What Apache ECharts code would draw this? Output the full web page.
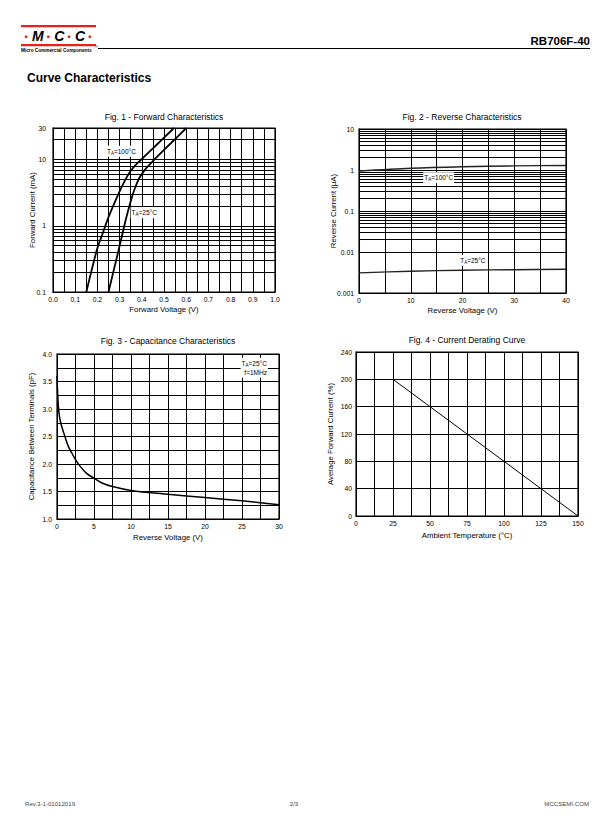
<!DOCTYPE html>
<html>
<head>
<meta charset="utf-8">
<title>RB706F-40 Curve Characteristics</title>
<script src="https://cdn.jsdelivr.net/npm/echarts@6/dist/echarts.min.js"></script>
<style>
html, body { margin: 0; padding: 0; background: #fff; }
#main { width: 612px; height: 825px; }
</style>
</head>
<body>
<div id="main"></div>
<script>
// Fig. 1 - forward characteristics (V, mA)
var fwdV100 = [0.15, 0.175, 0.2, 0.225, 0.25, 0.275, 0.3, 0.325, 0.35, 0.375, 0.4, 0.45, 0.5, 0.545];
var fwdI100 = [0.1, 0.22, 0.46, 0.79, 1.35, 2.14, 3.31, 4.9, 6.76, 8.5, 10.2, 14.8, 21.4, 30];
var fwdV25 = [0.25, 0.27, 0.29, 0.31, 0.33, 0.345, 0.36, 0.37, 0.38, 0.39, 0.4, 0.42, 0.45, 0.5, 0.55, 0.6];
var fwdI25 = [0.1, 0.19, 0.36, 0.69, 1.32, 2.04, 3.02, 3.76, 4.57, 5.37, 6.03, 7.41, 9.5, 14, 20.4, 30];
var fwdMinorY = [0.2, 0.3, 0.4, 0.5, 0.6, 0.7, 0.8, 0.9, 2, 3, 4, 5, 6, 7, 8, 9, 20];

// Fig. 2 - reverse characteristics (V, uA)
var revV = [0, 10, 20, 30, 40];
var revI100 = [0.94, 1.1, 1.2, 1.26, 1.29];
var revI25 = [0.0031, 0.0034, 0.0036, 0.0037, 0.0038];
var revMinorY = [0.002, 0.003, 0.004, 0.005, 0.006, 0.007, 0.008, 0.009,
  0.02, 0.03, 0.04, 0.05, 0.06, 0.07, 0.08, 0.09,
  0.2, 0.3, 0.4, 0.5, 0.6, 0.7, 0.8, 0.9,
  2, 3, 4, 5, 6, 7, 8, 9];

// Fig. 3 - capacitance (V, pF)
var capV = [0, 0.1, 0.25, 0.5, 1, 1.5, 2, 2.5, 3, 4, 5, 6, 7.5, 10, 15, 20, 25, 30];
var capC = [3.6, 3.25, 2.95, 2.75, 2.53, 2.33, 2.2, 2.08, 1.98, 1.83, 1.74, 1.66, 1.59, 1.52, 1.45, 1.39, 1.33, 1.26];

// Fig. 4 - current derating (degC, %)
var derT = [25, 150];
var derP = [200, 0];

function pairs(xs, ys) {
  return xs.map(function (x, i) { return [x, ys[i]]; });
}

var FONT = 'Liberation Sans, Arial, sans-serif';
var black = '#000';
var NAME_SIZE = 7.8;
var TICK_SIZE = 6.8;

function xAx(grid, min, max, interval, name, gap, fmt) {
  return {
    type: 'value', gridIndex: grid, min: min, max: max, interval: interval,
    name: name, nameLocation: 'middle', nameGap: gap, nameMoveOverlap: false,
    nameTextStyle: { fontFamily: FONT, fontSize: NAME_SIZE, color: '#000' },
    axisLine: { lineStyle: { color: black, width: 1 } },
    axisTick: { show: false },
    axisLabel: { fontFamily: FONT, fontSize: TICK_SIZE, color: '#000', margin: 4, formatter: fmt },
    splitLine: { show: true, lineStyle: { color: black, width: 1 } },
    minorTick: { show: false, splitNumber: 2 },
    minorSplitLine: { show: true, lineStyle: { color: black, width: 1 } }
  };
}

function yAx(grid, type, min, max, interval, name, gap, margin, fmt, minor) {
  var a = {
    type: type, gridIndex: grid, min: min, max: max,
    name: name, nameLocation: 'middle', nameGap: gap, nameMoveOverlap: false,
    nameTextStyle: { fontFamily: FONT, fontSize: NAME_SIZE, color: '#000' },
    axisLine: { lineStyle: { color: black, width: 1 } },
    axisTick: { show: false },
    axisLabel: { fontFamily: FONT, fontSize: TICK_SIZE, color: '#000', margin: margin },
    splitLine: { show: true, lineStyle: { color: black, width: 1 } }
  };
  if (type === 'log') { a.logBase = 10; }
  if (interval) { a.interval = interval; }
  if (fmt) { a.axisLabel.formatter = fmt; }
  if (minor) {
    a.minorTick = { show: false, splitNumber: minor };
    a.minorSplitLine = { show: true, lineStyle: { color: black, width: 1 } };
  }
  return a;
}

function gridLines(vals) {
  return {
    silent: true, symbol: ['none', 'none'], animation: false,
    label: { show: false },
    lineStyle: { color: black, type: 'solid', width: 1 },
    data: vals.map(function (v) { return { yAxis: v }; })
  };
}

var subRich = {
  t: { fontFamily: FONT, fontSize: 6.5, color: '#000', lineHeight: 9 },
  s: { fontFamily: FONT, fontSize: 4.5, color: '#000', lineHeight: 9, verticalAlign: 'bottom', padding: [3, 0, 0, 0] }
};

function note(coord, text, align) {
  return {
    symbol: 'rect', symbolSize: 1, silent: true, animation: false,
    itemStyle: { color: 'rgba(0,0,0,0)' },
    label: {
      show: true, position: 'inside', align: align || 'center', verticalAlign: 'middle',
      formatter: text, rich: subRich, backgroundColor: '#fff', padding: [1, 1]
    },
    data: [{ coord: coord }]
  };
}

function curve(x, y, data, width, color, extra) {
  var s = {
    type: 'line', xAxisIndex: x, yAxisIndex: y, data: data,
    showSymbol: false, symbol: 'none', smooth: 0.3, animation: false,
    lineStyle: { color: color, width: width }
  };
  for (var k in extra) { s[k] = extra[k]; }
  return s;
}

function figTitle(text, cx, top) {
  return {
    text: text, left: cx, top: top, textAlign: 'center', padding: 0,
    textStyle: { fontFamily: FONT, fontSize: 8.5, fontWeight: 'normal', color: '#000' }
  };
}

var option = {
  backgroundColor: '#fff',
  animation: false,
  title: [
    figTitle('Fig. 1 - Forward Characteristics', 164, 112),
    figTitle('Fig. 2 - Reverse Characteristics', 462, 112),
    figTitle('Fig. 3 - Capacitance Characteristics', 168, 336),
    figTitle('Fig. 4 - Current Derating Curve', 467, 335)
  ],
  grid: [
    { left: 53, top: 128, width: 222, height: 164, show: true, borderColor: black, borderWidth: 1.2, backgroundColor: '#fff' },
    { left: 359, top: 129, width: 207, height: 164, show: true, borderColor: black, borderWidth: 1.2, backgroundColor: '#fff' },
    { left: 57, top: 354, width: 222, height: 165, show: true, borderColor: black, borderWidth: 1.2, backgroundColor: '#fff' },
    { left: 356, top: 352, width: 222, height: 164, show: true, borderColor: black, borderWidth: 1.2, backgroundColor: '#fff' }
  ],
  xAxis: [
    xAx(0, 0, 1, 0.1, 'Forward Voltage (V)', 13, function (v) { return v.toFixed(1); }),
    xAx(1, 0, 40, 10, 'Reverse Voltage (V)', 13),
    xAx(2, 0, 30, 5, 'Reverse Voltage (V)', 14),
    xAx(3, 0, 150, 25, 'Ambient Temperature (°C)', 15)
  ],
  yAxis: [
    yAx(0, 'log', 0.1, 30, null, 'Forward Current (mA)', 17, 7),
    yAx(1, 'log', 0.001, 10, null, 'Reverse Current (μA)', 22, 5),
    yAx(2, 'value', 1, 4, 0.5, 'Capacitance Between Terminals (pF)', 22, 5, function (v) { return v.toFixed(1); }, 2),
    yAx(3, 'value', 0, 240, 40, 'Average Forward Current (%)', 22, 4)
  ],
  series: [
    curve(0, 0, pairs(fwdV100, fwdI100), 1.8, '#000', {
      markLine: gridLines(fwdMinorY),
      markPoint: note([0.308, 13.4], '{t|T}{s|A}{t|=100°C}')
    }),
    curve(0, 0, pairs(fwdV25, fwdI25), 1.8, '#000', {
      markPoint: note([0.411, 1.58], '{t|T}{s|A}{t|=25°C}')
    }),
    curve(1, 1, pairs(revV, revI100), 1.4, '#222', {
      markLine: gridLines(revMinorY),
      markPoint: note([15.4, 0.65], '{t|T}{s|A}{t|=100°C}')
    }),
    curve(1, 1, pairs(revV, revI25), 1.4, '#222', {
      markPoint: note([22, 0.0062], '{t|T}{s|A}{t|=25°C}')
    }),
    curve(2, 2, pairs(capV, capC), 1.5, '#000', {
      markPoint: note([28.5, 3.75], '{t|T}{s|A}{t|=25°C}\n{t|f=1MHz}', 'right')
    }),
    curve(3, 3, pairs(derT, derP), 1, '#000', { smooth: false })
  ],
  graphic: [
    // logo
    { type: 'rect', shape: { x: 21, y: 25, width: 75, height: 2.2 }, style: { fill: '#e3221c' } },
    { type: 'rect', shape: { x: 21, y: 44, width: 75, height: 2.2 }, style: { fill: '#e3221c' } },
    {
      type: 'text', x: 58.5, y: 36,
      style: {
        text: '{d|·}{m|M}{d|·}{m|C}{d|·}{m|C}{d|·}', align: 'center', verticalAlign: 'middle',
        rich: {
          m: { fontFamily: FONT, fontSize: 14, fontWeight: 'bold', fontStyle: 'italic', fill: '#000' },
          d: { fontFamily: FONT, fontSize: 17, fontWeight: 'bold', fill: '#e3221c', padding: [0, 2.5] }
        }
      }
    },
    { type: 'text', x: 21, y: 50, style: { text: 'Micro Commercial Components', fontFamily: FONT, fontSize: 4.7, fontWeight: 'bold', fill: '#000', verticalAlign: 'middle' } },
    { type: 'text', x: 95, y: 46, style: { text: '®', fontFamily: FONT, fontSize: 4, fill: '#000', verticalAlign: 'middle' } },
    { type: 'line', shape: { x1: 98, y1: 48.5, x2: 590, y2: 48.5 }, style: { stroke: '#000', lineWidth: 1 } },
    { type: 'text', x: 590, y: 41, style: { text: 'RB706F-40', fontFamily: FONT, fontSize: 11.5, fontWeight: 'bold', fill: '#000', align: 'right', verticalAlign: 'middle' } },
    { type: 'text', x: 27, y: 78, style: { text: 'Curve Characteristics', fontFamily: FONT, fontSize: 12, fontWeight: 'bold', fill: '#000', verticalAlign: 'middle' } },
    // footer
    { type: 'text', x: 25, y: 803, style: { text: 'Rev.3-1-01012019', fontFamily: FONT, fontSize: 6.1, fill: '#444', verticalAlign: 'middle' } },
    { type: 'text', x: 294, y: 803, style: { text: '2/3', fontFamily: FONT, fontSize: 6.1, fill: '#444', align: 'center', verticalAlign: 'middle' } },
    { type: 'text', x: 589, y: 803, style: { text: 'MCCSEMI.COM', fontFamily: FONT, fontSize: 6.1, fill: '#444', align: 'right', verticalAlign: 'middle' } }
  ]
};

var chart = echarts.init(document.getElementById('main'), null, { renderer: 'svg' });
chart.setOption(option);
</script>
</body>
</html>
